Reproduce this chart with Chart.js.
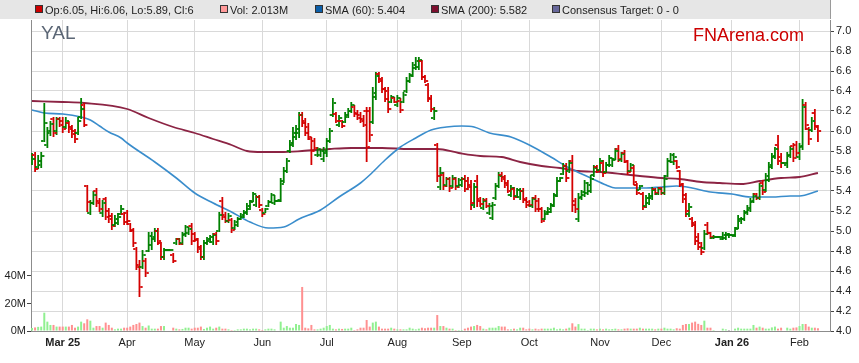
<!DOCTYPE html>
<html>
<head>
<meta charset="utf-8">
<script src="https://cdn.jsdelivr.net/npm/chart.js@4/dist/chart.umd.min.js"></script>
<style>
  html, body { margin: 0; padding: 0; background: #fff; }
  #wrap { width: 859px; height: 363px; position: relative; }
</style>
</head>
<body>
<div id="wrap"><canvas id="chart"></canvas></div>
<script>
// one slot per weekday, slot 0 = Mon 17 Feb 2025
const monthLabels = ['Mar 25', 'Apr', 'May', 'Jun', 'Jul', 'Aug', 'Sep', 'Oct', 'Nov', 'Dec', 'Jan 26', 'Feb'];
const monthIdx = [10, 31, 53, 75, 96, 119, 140, 162, 185, 205, 228, 250];
const yearLabels = ['Mar 25', 'Jan 26'];
const priceTicks = [4.0, 4.2, 4.4, 4.6, 4.8, 5.0, 5.2, 5.4, 5.6, 5.8, 6.0, 6.2, 6.4, 6.6, 6.8, 7.0];
const volTicks = [0, 20, 40];

const opens = [
  5.68,5.76,5.64,5.66,5.90,5.86,5.98,6.12,6.00,6.12, 6.10,6.04,6.08,6.04,6.00,5.98,6.14,6.26,5.45,5.18,
  5.28,5.40,5.30,5.18,5.32,5.20,5.15,5.06,5.08,5.17, 5.17,5.18,5.07,5.00,4.82,4.66,4.64,4.70,4.80,4.86,
  4.92,5.00,4.88,4.74,4.81,4.81,4.76,4.88,4.92,4.88, 4.96,4.98,5.05,4.97,4.91,4.84,4.74,4.88,4.90,4.89,
  4.97,5.00,5.30,5.16,5.10,5.11,5.03,5.06,5.12,5.14, 5.18,5.22,5.30,5.26,5.34,5.21,5.18,5.25,5.29,5.28,
  5.30,5.31,5.50,5.60,5.80,5.86,5.94,5.98,6.16,6.10, 6.04,5.92,5.90,5.76,5.76,5.72,5.78,5.90,6.16,6.17,
  6.06,6.10,6.09,6.14,6.20,6.24,6.18,6.16,6.12,6.20, 6.20,6.09,6.34,6.57,6.52,6.42,6.40,6.29,6.33,6.26,
  6.30,6.29,6.40,6.50,6.56,6.63,6.64,6.70,6.54,6.46, 6.33,6.13,5.86,5.44,5.56,5.46,5.52,5.45,5.52,5.45,
  5.46,5.52,5.50,5.46,5.26,5.50,5.32,5.23,5.31,5.18, 5.13,5.33,5.45,5.56,5.54,5.48,5.36,5.42,5.35,5.34,
  5.40,5.32,5.29,5.25,5.33,5.30,5.22,5.12,5.17,5.19, 5.26,5.36,5.50,5.57,5.65,5.60,5.70,5.30,5.12,5.33,
  5.36,5.38,5.40,5.56,5.64,5.61,5.68,5.59,5.66,5.66, 5.72,5.82,5.71,5.78,5.69,5.60,5.63,5.46,5.41,5.37,
  5.25,5.28,5.33,5.42,5.37,5.43,5.38,5.55,5.70,5.69, 5.70,5.60,5.46,5.36,5.17,5.12,5.08,4.94,4.88,4.83,
  5.06,4.98,4.93,4.94,4.94,4.92,4.93,4.96,4.96,4.95, 5.03,5.10,5.12,5.18,5.21,5.29,5.37,5.33,5.48,5.41,
  5.51,5.64,5.74,5.86,5.74,5.68,5.66,5.75,5.85,5.86, 5.74,5.84,6.26,6.02,6.01,6.18,6.05
];
const highs = [
  5.78,5.79,5.76,5.79,6.28,6.04,6.10,6.14,6.14,6.14, 6.14,6.14,6.10,6.06,6.02,6.14,6.33,6.28,5.46,5.31,
  5.40,5.43,5.33,5.31,5.34,5.23,5.18,5.16,5.18,5.26, 5.19,5.21,5.08,5.03,4.84,4.71,4.81,4.73,4.99,4.99,
  5.03,5.03,4.89,4.83,4.81,4.81,4.78,4.93,4.93,4.99, 5.06,5.04,5.08,4.99,4.93,4.86,4.91,4.94,4.96,4.98,
  4.99,5.19,5.34,5.19,5.18,5.13,5.11,5.14,5.18,5.21, 5.28,5.31,5.39,5.36,5.36,5.23,5.23,5.31,5.38,5.36,
  5.30,5.53,5.64,5.73,5.91,6.04,6.06,6.19,6.19,6.13, 6.08,5.94,5.93,5.84,5.82,5.84,5.93,6.03,6.33,6.19,
  6.16,6.11,6.19,6.23,6.29,6.26,6.21,6.19,6.16,6.24, 6.24,6.44,6.59,6.59,6.54,6.44,6.44,6.36,6.34,6.36,
  6.33,6.39,6.54,6.58,6.69,6.74,6.74,6.71,6.56,6.48, 6.36,6.24,5.88,5.64,5.59,5.54,5.54,5.56,5.54,5.53,
  5.54,5.56,5.54,5.51,5.48,5.56,5.34,5.33,5.33,5.28, 5.29,5.48,5.59,5.59,5.56,5.51,5.46,5.44,5.43,5.43,
  5.43,5.34,5.31,5.34,5.36,5.33,5.24,5.21,5.24,5.28, 5.38,5.54,5.54,5.68,5.68,5.71,5.76,5.33,5.38,5.41,
  5.51,5.49,5.56,5.66,5.66,5.73,5.71,5.69,5.76,5.73, 5.83,5.86,5.79,5.81,5.71,5.68,5.66,5.48,5.46,5.39,
  5.36,5.38,5.44,5.43,5.44,5.44,5.56,5.73,5.78,5.78, 5.71,5.61,5.48,5.38,5.28,5.14,5.10,4.98,4.89,5.01,
  5.09,4.99,4.96,4.94,4.94,4.99,4.99,4.98,4.96,5.04, 5.16,5.14,5.21,5.26,5.33,5.38,5.38,5.48,5.51,5.58,
  5.69,5.78,5.84,5.96,5.78,5.68,5.79,5.85,5.88,5.90, 5.88,6.32,6.29,6.04,6.14,6.22,6.06
];
const lows = [
  5.66,5.59,5.62,5.63,5.89,5.83,5.95,5.94,5.96,6.04, 5.98,6.02,5.98,5.93,5.88,5.96,6.12,6.04,5.19,5.16,
  5.26,5.24,5.19,5.14,5.11,5.08,5.01,5.04,5.06,5.16, 5.06,5.06,4.99,4.84,4.61,4.34,4.62,4.54,4.79,4.81,
  4.89,4.86,4.71,4.71,4.81,4.81,4.68,4.86,4.86,4.86, 4.94,4.96,4.86,4.89,4.78,4.71,4.71,4.86,4.88,4.86,
  4.86,4.99,5.11,5.08,5.08,4.98,5.01,5.04,5.11,5.13, 5.16,5.21,5.29,5.24,5.23,5.14,5.18,5.24,5.28,5.26,
  5.30,5.29,5.48,5.58,5.78,5.84,5.91,5.93,6.04,5.95, 5.91,5.66,5.81,5.74,5.74,5.69,5.74,5.88,6.14,6.08,
  6.04,6.03,6.08,6.13,6.18,6.14,6.11,6.08,6.04,5.69, 5.89,6.07,6.31,6.48,6.38,6.29,6.18,6.28,6.28,6.24,
  6.18,6.28,6.38,6.48,6.54,6.61,6.61,6.51,6.48,6.29, 6.19,6.11,5.49,5.41,5.41,5.44,5.39,5.43,5.41,5.43,
  5.44,5.39,5.41,5.21,5.23,5.24,5.24,5.21,5.23,5.16, 5.11,5.31,5.43,5.49,5.43,5.38,5.34,5.31,5.33,5.31,
  5.28,5.23,5.24,5.23,5.19,5.19,5.08,5.11,5.16,5.18, 5.24,5.34,5.49,5.56,5.49,5.58,5.19,5.18,5.09,5.31,
  5.34,5.36,5.38,5.54,5.58,5.59,5.54,5.58,5.64,5.64, 5.71,5.69,5.69,5.68,5.56,5.59,5.46,5.36,5.41,5.21,
  5.23,5.26,5.31,5.36,5.36,5.36,5.36,5.54,5.68,5.66, 5.62,5.44,5.28,5.14,5.14,5.04,4.86,4.81,4.76,4.81,
  4.96,4.92,4.92,4.94,4.94,4.91,4.91,4.93,4.96,4.94, 5.02,5.07,5.10,5.16,5.19,5.28,5.31,5.31,5.36,5.39,
  5.49,5.62,5.72,5.66,5.63,5.68,5.63,5.73,5.69,5.74, 5.71,5.81,6.01,5.86,5.99,6.01,5.89
];
const closes = [
  5.72,5.62,5.70,5.75,6.08,6.00,6.07,5.98,6.12,6.06, 6.02,6.10,6.02,5.97,5.92,6.10,6.22,6.06,5.29,5.28,
  5.36,5.28,5.22,5.28,5.14,5.12,5.05,5.12,5.14,5.22, 5.09,5.10,5.01,4.88,4.64,4.44,4.76,4.58,4.95,4.94,
  5.00,4.90,4.74,4.81,4.81,4.81,4.70,4.92,4.87,4.97, 5.04,5.02,4.90,4.92,4.82,4.74,4.88,4.92,4.94,4.96,
  4.90,5.16,5.14,5.10,5.15,5.01,5.09,5.12,5.16,5.19, 5.25,5.29,5.37,5.34,5.26,5.17,5.22,5.29,5.36,5.30,
  5.30,5.47,5.60,5.70,5.88,5.98,6.02,6.16,6.08,5.98, 5.94,5.80,5.83,5.82,5.80,5.80,5.90,6.00,6.28,6.10,
  6.13,6.05,6.16,6.20,6.26,6.17,6.13,6.10,6.06,5.84, 5.96,6.38,6.55,6.50,6.42,6.32,6.22,6.34,6.29,6.33,
  6.21,6.36,6.50,6.55,6.66,6.70,6.71,6.54,6.50,6.32, 6.22,6.20,5.55,5.58,5.45,5.52,5.43,5.53,5.44,5.51,
  5.52,5.42,5.44,5.28,5.44,5.30,5.27,5.30,5.25,5.25, 5.26,5.45,5.55,5.52,5.46,5.40,5.43,5.34,5.41,5.40,
  5.31,5.26,5.26,5.32,5.22,5.22,5.10,5.19,5.22,5.25, 5.35,5.50,5.53,5.65,5.53,5.68,5.26,5.22,5.34,5.39,
  5.48,5.46,5.52,5.63,5.60,5.70,5.58,5.66,5.73,5.71, 5.80,5.72,5.77,5.70,5.59,5.66,5.49,5.38,5.45,5.24,
  5.33,5.35,5.41,5.38,5.42,5.38,5.52,5.70,5.76,5.74, 5.64,5.47,5.32,5.20,5.24,5.06,4.90,4.84,4.79,4.97,
  4.98,4.94,4.94,4.94,4.94,4.96,4.97,4.96,4.96,5.02, 5.12,5.12,5.19,5.23,5.30,5.35,5.33,5.45,5.39,5.55,
  5.66,5.75,5.82,5.70,5.68,5.68,5.76,5.82,5.73,5.78, 5.85,6.24,6.06,5.92,6.10,6.04,6.00
];
// volume in millions
const volumes = [
  2.2,2.6,3.0,3.2,13.3,6.8,4.4,4.4,3.2,3.2, 3.2,3.2,3.2,4.4,2.4,3.2,6.8,5.6,8.5,7.5,
  2.4,3.6,3.6,2.4,6.1,4.4,2.4,1.2,1.7,1.7, 2.4,2.4,3.2,4.4,5.1,6.1,3.6,2.4,4.0,1.7,
  1.7,1.7,3.6,3.6,0,0,2.4,1.7,1.2,1.5, 2.4,2.4,1.7,2.4,2.4,3.2,1.5,2.4,3.2,1.7,
  2.4,3.2,1.7,1.7,1.2,0.7,0.7,1.2,1.2,1.7, 1.7,1.2,1.7,1.7,1.2,0.7,1.2,1.7,1.7,1.2,
  0,6.8,2.4,3.6,2.4,2.4,5.1,4.4,32.0,2.4, 1.9,4.4,1.2,1.2,1.7,2.4,3.6,4.4,1.7,1.2,
  1.7,1.5,1.7,1.7,2.4,0.7,1.2,2.4,2.4,8.0, 3.2,6.1,6.8,3.2,1.7,1.7,1.7,2.4,1.7,1.2,
  1.2,1.2,1.2,2.4,1.7,1.2,1.7,2.4,2.0,2.4, 2.4,2.4,11.6,3.6,3.6,2.4,1.7,1.7,0.7,0.7,
  0.7,1.7,2.4,3.2,3.6,4.4,3.6,1.7,1.2,2.4, 2.4,2.4,3.6,3.2,3.2,1.2,1.2,1.7,1.2,2.4,
  2.4,1.2,1.7,1.2,1.7,1.2,1.7,1.7,1.7,1.7, 2.4,1.2,1.7,1.2,1.7,2.4,5.6,3.2,5.0,1.7,
  1.7,0.7,1.7,1.7,1.2,1.7,1.2,1.7,1.2,1.4, 1.7,1.2,1.2,1.7,1.9,1.7,1.7,1.7,2.4,1.7,
  1.7,1.7,1.7,1.2,1.7,1.7,2.4,1.7,1.7,1.2, 2.0,1.7,4.4,5.1,5.1,6.1,6.8,5.2,4.4,7.5,
  2.4,2.4,0.7,0,0,1.7,1.2,0.7,0,1.7, 2.4,1.7,1.7,1.7,1.7,4.4,2.4,3.2,2.4,1.7,
  1.7,2.6,3.2,1.7,2.4,0,2.4,1.7,2.4,2.6, 3.6,5.1,5.1,3.2,2.4,2.4,2.0
];

// moving averages at these slots
const sma60Idx = [0, 4, 10, 16, 19, 22, 25, 29, 31, 40, 47, 53, 59, 65, 71, 77, 82, 87, 94, 100, 107, 110, 115, 120, 125,
  130, 135, 140, 144, 149, 156, 162, 169, 175, 182, 187, 190, 195, 200, 205, 210, 215, 221, 228, 234, 241, 247, 250, 256];
const sma60 = [6.21, 6.18, 6.17, 6.14, 6.11, 6.05, 5.99, 5.93, 5.88, 5.69, 5.53, 5.38, 5.28, 5.19, 5.09, 5.03, 5.04, 5.12, 5.21, 5.34, 5.48, 5.56, 5.71, 5.84, 5.93,
  6.01, 6.04, 6.05, 6.04, 5.98, 5.94, 5.86, 5.74, 5.63, 5.53, 5.46, 5.43, 5.43, 5.43, 5.44, 5.45, 5.43, 5.39, 5.37, 5.34, 5.34, 5.35, 5.35, 5.40];
const sma200Idx = [0, 10, 17, 31, 38, 46, 53, 59, 65, 70, 75, 81, 88, 97, 104, 114, 123, 132, 139, 146, 153, 159, 166, 172, 178,
  185, 192, 198, 205, 211, 218, 224, 231, 237, 244, 250, 256];
const sma200 = [6.30, 6.29, 6.28, 6.22, 6.13, 6.04, 5.98, 5.92, 5.86, 5.80, 5.79, 5.79, 5.80, 5.82, 5.83, 5.83, 5.82, 5.82, 5.78, 5.75, 5.74, 5.69, 5.65, 5.63, 5.60,
  5.59, 5.57, 5.55, 5.53, 5.52, 5.49, 5.48, 5.47, 5.50, 5.53, 5.54, 5.58];

const legendItems = [
  { text: 'Op:6.05, Hi:6.06, Lo:5.89, Cl:6', color: '#cc0000', x: 35 },
  { text: 'Vol: 2.013M', color: '#ff9999', x: 220 },
  { text: 'SMA (60): 5.404', color: '#0b5ea8', x: 315 },
  { text: 'SMA (200): 5.582', color: '#7d0f2f', x: 431 },
  { text: 'Consensus Target: 0 - 0', color: '#67679a', x: 552 }
];

const FONT = "'Liberation Sans', Arial, sans-serif";
const UP = '#008000', DOWN = '#d40000';

function barColor(i) {
  return closes[i] >= opens[i] ? UP : DOWN;
}
function volColor(i) {
  if (closes[i] > opens[i]) return '#90f090';
  if (closes[i] < opens[i]) return '#ff9090';
  return '#808080';
}

const idx = closes.map((c, i) => i);

// header bar, ticker and site name
const chrome = {
  id: 'chrome',
  beforeDraw(chart) {
    const c = chart.ctx;
    const a = chart.chartArea;
    c.save();
    c.fillStyle = '#fff';
    c.fillRect(0, 0, chart.width, chart.height);
    c.fillStyle = '#e6e6e6';
    c.fillRect(0, 0, a.right, 19);
    c.strokeStyle = '#9a9a9a';
    c.beginPath(); c.moveTo(a.right + 0.5, 0); c.lineTo(a.right + 0.5, 19); c.stroke();
    c.font = '11px ' + FONT;
    c.textBaseline = 'alphabetic';
    legendItems.forEach(it => {
      c.fillStyle = it.color;
      c.fillRect(it.x, 5, 8, 8);
      c.strokeStyle = '#333';
      c.lineWidth = 1;
      c.strokeRect(it.x + 0.5, 5.5, 7, 7);
      c.fillStyle = '#222';
      c.fillText(it.text, it.x + 10, 14);
    });
    c.restore();
  },
  afterDraw(chart) {
    const c = chart.ctx;
    c.save();
    c.font = '19px ' + FONT;
    c.fillStyle = '#5b6675';
    c.fillText('YAL', 41, 39);
    c.fillStyle = '#cc0000';
    c.font = '18px ' + FONT;
    c.fillText('FNArena.com', 693, 41);
    c.restore();
  }
};

// open (left) and close (right) ticks of each OHLC bar
const ohlcTicks = {
  id: 'ohlcTicks',
  afterDatasetsDraw(chart) {
    const c = chart.ctx;
    const xs = chart.scales.x, ys = chart.scales.price;
    const a = chart.chartArea;
    c.save();
    c.beginPath();
    c.rect(a.left, a.top, a.right - a.left, a.bottom - a.top);
    c.clip();
    for (let i = 0; i < closes.length; i++) {
      const x = xs.getPixelForValue(i);
      const yo = ys.getPixelForValue(opens[i]);
      const yc = ys.getPixelForValue(closes[i]);
      c.fillStyle = barColor(i);
      if (highs[i] === lows[i]) {
        c.fillRect(x - 3.2, yc - 0.9, 6.4, 1.8);
        continue;
      }
      c.fillRect(x - 3.2, yo - 0.9, 2.4, 1.8);
      c.fillRect(x + 0.8, yc - 0.9, 2.4, 1.8);
    }
    c.restore();
  }
};

const ctx = document.getElementById('chart').getContext('2d');
new Chart(ctx, {
  type: 'bar',
  data: {
    datasets: [
      {
        label: 'Price',
        yAxisID: 'price',
        data: idx.map(i => ({ x: i, y: [lows[i], highs[i]] })),
        backgroundColor: idx.map(barColor),
        borderWidth: 0,
        borderSkipped: false,
        maxBarThickness: 1.8,
        grouped: false,
        order: 0
      },
      {
        type: 'line',
        label: 'SMA (60)',
        yAxisID: 'price',
        data: sma60Idx.map((x, k) => ({ x: x, y: sma60[k] })),
        borderColor: '#3a8dcc',
        borderWidth: 1.6,
        pointRadius: 0,
        cubicInterpolationMode: 'monotone',
        order: 1
      },
      {
        type: 'line',
        label: 'SMA (200)',
        yAxisID: 'price',
        data: sma200Idx.map((x, k) => ({ x: x, y: sma200[k] })),
        borderColor: '#8c2444',
        borderWidth: 1.8,
        pointRadius: 0,
        cubicInterpolationMode: 'monotone',
        order: 1
      },
      {
        label: 'Volume',
        yAxisID: 'vol',
        data: idx.map(i => ({ x: i, y: volumes[i] * 1e6 })),
        backgroundColor: idx.map(volColor),
        borderWidth: 0,
        maxBarThickness: 2,
        grouped: false,
        order: 2
      }
    ]
  },
  options: {
    responsive: true,
    maintainAspectRatio: false,
    animation: false,
    devicePixelRatio: 1,
    layout: { padding: { top: 20, left: 0, right: 0, bottom: 0 } },
    plugins: {
      legend: { display: false },
      tooltip: { enabled: false }
    },
    scales: {
      x: {
        type: 'linear',
        min: -0.33,
        max: 259.93,
        offset: false,
        afterBuildTicks: axis => { axis.ticks = monthIdx.map(v => ({ value: v })); },
        afterFit: axis => { axis.height = 32; },
        grid: { color: '#d9d9d9', drawTicks: false, offset: false },
        border: { color: '#8c8c8c' },
        ticks: {
          autoSkip: false,
          maxRotation: 0,
          padding: 5,
          color: '#222',
          font: c => ({ family: FONT, size: 11, weight: (c.tick && yearLabels.includes(monthLabels[monthIdx.indexOf(c.tick.value)])) ? 'bold' : 'normal' }),
          callback: v => monthLabels[monthIdx.indexOf(v)]
        }
      },
      price: {
        type: 'linear',
        position: 'right',
        min: 4.0,
        max: 7.11,
        afterBuildTicks: axis => { axis.ticks = priceTicks.map(v => ({ value: v })); },
        afterFit: axis => { axis.width = 29; },
        grid: { color: '#d9d9d9', tickColor: '#444', tickLength: 4 },
        border: { color: '#8c8c8c' },
        ticks: {
          padding: 2,
          color: '#222',
          font: { family: FONT, size: 11 },
          callback: v => v.toFixed(1)
        }
      },
      vol: {
        type: 'linear',
        position: 'left',
        min: 0,
        max: 226e6,
        afterBuildTicks: axis => { axis.ticks = volTicks.map(v => ({ value: v * 1e6 })); },
        afterFit: axis => { axis.width = 31; },
        grid: { drawOnChartArea: false, tickColor: '#444', tickLength: 4 },
        border: { color: '#8c8c8c' },
        ticks: {
          padding: 1,
          color: '#222',
          font: { family: FONT, size: 11 },
          callback: v => (v / 1e6) + 'M'
        }
      }
    }
  },
  plugins: [chrome, ohlcTicks]
});
</script>
</body>
</html>
